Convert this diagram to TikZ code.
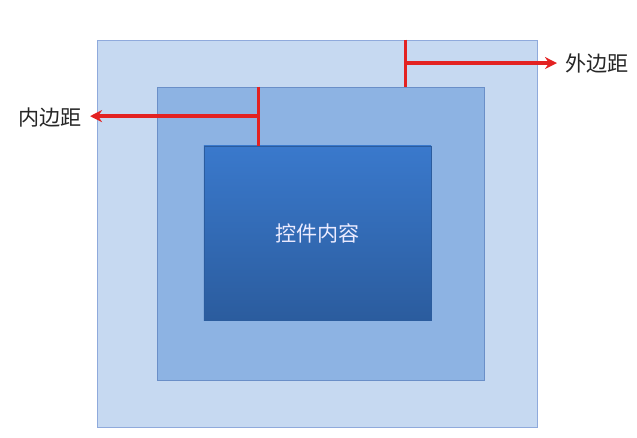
\documentclass[tikz,border=0pt]{standalone}
\usepackage{fontspec}
\setmainfont{Noto Sans CJK SC}
\usepackage{tikz}
\usetikzlibrary{arrows.meta, positioning, calc}

\definecolor{marginblue}{HTML}{C6D9F1}
\definecolor{marginedge}{HTML}{8FAADC}
\definecolor{paddingblue}{HTML}{8DB3E3}
\definecolor{paddingedge}{HTML}{6A8FC8}
\definecolor{contenttop}{HTML}{3A79CC}
\definecolor{contentbot}{HTML}{2B5C9E}
\definecolor{markred}{HTML}{E32222}

\begin{document}
\begin{tikzpicture}[
    x=0.025cm, y=-0.025cm,
    marginbox/.style={draw=marginedge, fill=marginblue, line width=0.6pt, minimum width=11cm, minimum height=9.675cm, inner sep=0pt},
    paddingbox/.style={draw=paddingedge, fill=paddingblue, line width=0.6pt, minimum width=8.175cm, minimum height=7.325cm, inner sep=0pt},
    contentbox/.style={top color=contenttop, bottom color=contentbot, draw=contentbot, minimum width=5.675cm, minimum height=4.35cm, inner sep=0pt, text=white!92!blue, font=\fontsize{15}{18}\selectfont},
    marklbl/.style={font=\fontsize{15}{18}\selectfont, text=black!85, inner sep=0.1cm},
    markline/.style={markred, line width=2.5pt},
    markarrow/.style={markred, line width=2.5pt, -{Stealth[length=0.3cm, width=0.3cm]}, shorten >=0.1cm}
]
\useasboundingbox (0,0) rectangle (637,437);

% Outer box (margin) + padding box + content
\node[marginbox] (outer) at (317,233.5) {};
\node[paddingbox] (padding) at (320.5,233.5) {};
\node[contentbox] (content) at (317.5,233) {控件内容};

% Margin marker (top right)
\coordinate (mtop) at ([xshift=7.725cm]outer.north west);
\coordinate (mbot) at (mtop |- padding.north);
\coordinate (mmid) at ($(mtop)!0.5!(mbot)$);
\draw[markline] (mtop) -- (mbot);
\node[marklbl, anchor=west] (marginlbl) at (561,63) {外边距};
\draw[markarrow] (mmid) -- (mmid -| marginlbl.west);

% Padding marker (left)
\coordinate (ptop) at ([xshift=2.55cm]padding.north west);
\coordinate (pbot) at (ptop |- content.north);
\coordinate (pmid) at ($(ptop)!0.5!(pbot)$);
\draw[markline] (ptop) -- (pbot);
\node[marklbl, anchor=east] (paddinglbl) at (86,117) {内边距};
\draw[markarrow] (pmid) -- (pmid -| paddinglbl.east);

\end{tikzpicture}
\end{document}
